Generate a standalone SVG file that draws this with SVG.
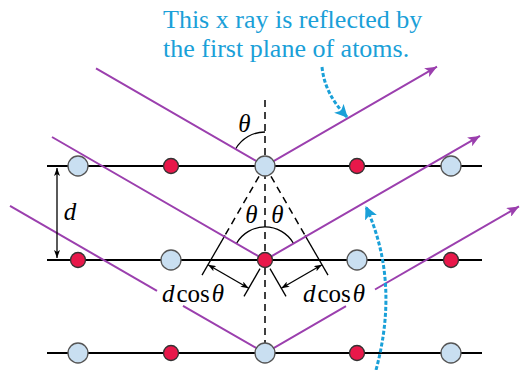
<svg xmlns="http://www.w3.org/2000/svg" width="520" height="370" viewBox="0 0 520 370">
<defs>
<style>
.plane{stroke:#000;stroke-width:2;fill:none}
.ray{stroke:#9b3fae;stroke-width:2;fill:none}
.blue{fill:#c9dff1;stroke:#555;stroke-width:1.3}
.red{fill:#e8184a;stroke:#333;stroke-width:1.3}
.dash{stroke:#000;stroke-width:1.5;stroke-dasharray:7 5;fill:none}
.thin{stroke:#000;stroke-width:1.3;fill:none}
.cyan{stroke:#1aa0d8;stroke-width:3;stroke-dasharray:4 2;fill:none}
.math{font-size:25px;fill:#000}
.it{font-style:italic}
.note{font-size:26px;fill:#1aa0d8}
</style>
<marker id="pa" viewBox="0 0 12 10" refX="12" refY="5" markerWidth="12" markerHeight="10" markerUnits="userSpaceOnUse" orient="auto">
<path d="M0,0 L12,5 L0,10 L3,5 Z" fill="#9b3fae"/>
</marker>
<marker id="ba" viewBox="0 0 8 6" refX="8" refY="3" markerWidth="8" markerHeight="6" markerUnits="userSpaceOnUse" orient="auto-start-reverse">
<path d="M0,0 L8,3 L0,6 L2,3 Z" fill="#000"/>
</marker>
<marker id="ca" viewBox="0 0 12 12" refX="11" refY="6" markerWidth="13" markerHeight="13" markerUnits="userSpaceOnUse" orient="auto">
<path d="M0,0 L12,6 L0,12 L3,6 Z" fill="#1aa0d8"/>
</marker>
</defs>

<g id="planes">
<line class="plane" x1="47" y1="166" x2="482" y2="166"/>
<line class="plane" x1="47" y1="260" x2="482" y2="260"/>
<line class="plane" x1="47" y1="353" x2="482" y2="353"/>
</g>

<g id="construction">
<line class="dash" x1="265" y1="100" x2="265" y2="353"/>
<line class="dash" x1="259" y1="176.4" x2="225" y2="235.3"/>
<line class="dash" x1="271" y1="176.4" x2="305" y2="235.3"/>
<line class="thin" x1="225" y1="235.3" x2="202" y2="275.1"/>
<line class="thin" x1="305" y1="235.3" x2="328" y2="275.1"/>
<line class="thin" x1="260" y1="268.7" x2="244" y2="296.4"/>
<line class="thin" x1="270" y1="268.7" x2="286" y2="296.4"/>
<path class="thin" d="M235.56 149 A34 34 0 0 1 265 132"/>
<path class="thin" d="M236.4 243.5 A33 33 0 0 1 293.6 243.5"/>
</g>

<g id="connectors">
<polyline class="ray" points="96,68.4 265,166 437,66.7" marker-end="url(#pa)"/>
<polyline class="ray" points="52,137 265,260 480,135.9" marker-end="url(#pa)"/>
<line class="ray" x1="10" y1="205.8" x2="157" y2="290.9"/>
<polyline class="ray" points="183,305.9 265,353 346,306.2"/>
<line class="ray" x1="375" y1="289.5" x2="519" y2="206.4" marker-end="url(#pa)"/>
<line class="thin" x1="57" y1="168" x2="57" y2="258" marker-start="url(#ba)" marker-end="url(#ba)"/>
<line class="thin" x1="208" y1="264.7" x2="248.7" y2="288.2" marker-start="url(#ba)" marker-end="url(#ba)"/>
<line class="thin" x1="322" y1="264.7" x2="281.3" y2="288.2" marker-start="url(#ba)" marker-end="url(#ba)"/>
<path class="cyan" d="M322 67 C324 86 332 101 347 117" marker-end="url(#ca)"/>
<path class="cyan" d="M376 370 Q400 281 366 207" marker-end="url(#ca)"/>
</g>

<g id="atoms-top">
<circle class="blue" cx="78" cy="166" r="10"/>
<circle class="red" cx="171" cy="166" r="7.5"/>
<circle class="blue" cx="265" cy="166" r="10"/>
<circle class="red" cx="357" cy="166" r="7.5"/>
<circle class="blue" cx="451" cy="166" r="10"/>
</g>
<g id="atoms-middle">
<circle class="red" cx="78" cy="260" r="7.5"/>
<circle class="blue" cx="171" cy="260" r="10"/>
<circle class="red" cx="265" cy="260" r="7.5"/>
<circle class="blue" cx="357" cy="260" r="10"/>
<circle class="red" cx="451" cy="260" r="7.5"/>
</g>
<g id="atoms-bottom">
<circle class="blue" cx="78" cy="353" r="10"/>
<circle class="red" cx="171" cy="353" r="7.5"/>
<circle class="blue" cx="265" cy="353" r="10"/>
<circle class="red" cx="357" cy="353" r="7.5"/>
<circle class="blue" cx="451" cy="353" r="10"/>
</g>

<g id="labels" font-family="'Liberation Serif', 'Times New Roman', 'DejaVu Serif', serif">
<text class="math it" x="244.5" y="132" text-anchor="middle">θ</text>
<text class="math it" x="251.5" y="223" text-anchor="middle">θ</text>
<text class="math it" x="277.5" y="223" text-anchor="middle">θ</text>
<text class="math it" x="70" y="220" text-anchor="middle">d</text>
<text class="math" x="162" y="302"><tspan class="it">d</tspan><tspan dx="2">cos</tspan><tspan class="it" dx="2">θ</tspan></text>
<text class="math" x="303" y="302"><tspan class="it">d</tspan><tspan dx="2">cos</tspan><tspan class="it" dx="2">θ</tspan></text>
</g>

<g id="note" font-family="'Liberation Serif', 'Times New Roman', 'DejaVu Serif', serif">
<text class="note" x="163" y="28">This x ray is reflected by</text>
<text class="note" x="163" y="57">the first plane of atoms.</text>
</g>
</svg>
